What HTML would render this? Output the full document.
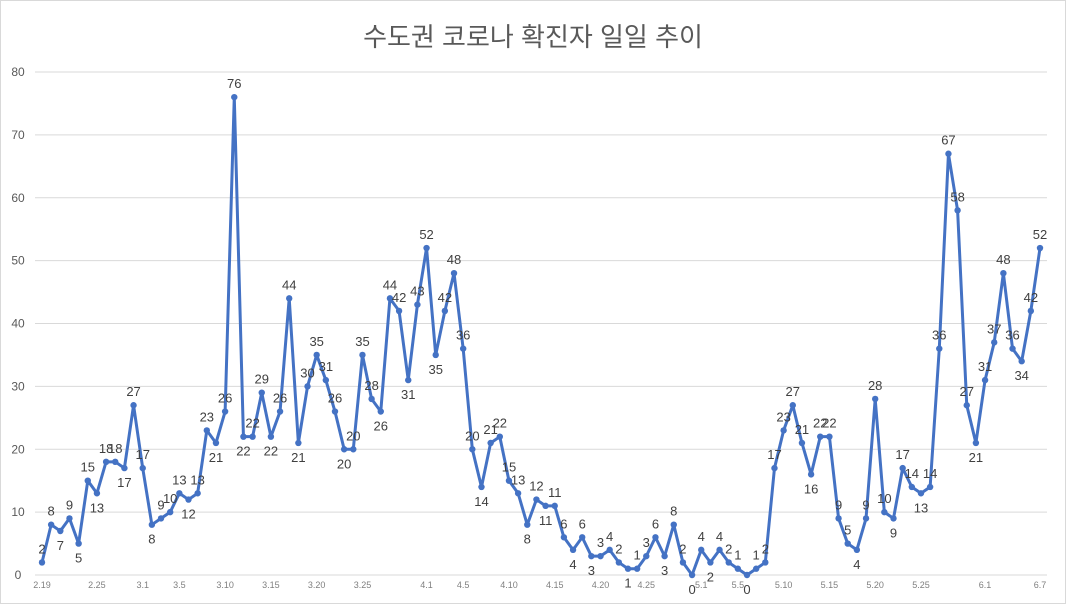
<!DOCTYPE html>
<html><head><meta charset="utf-8"><style>
body{margin:0;background:#fff;}
svg{display:block;font-family:"Liberation Sans","Noto Sans CJK KR",sans-serif;}
</style></head><body>
<svg id="chart" width="1066" height="604" viewBox="0 0 1066 604">
<rect x="0.5" y="0.5" width="1065" height="603" fill="#fff" stroke="#d9d9d9"/>
<text x="533" y="46" text-anchor="middle" font-size="26" fill="#595959">수도권 코로나 확진자 일일 추이</text>
<g id="grid"></g><g id="yt"></g><g id="xt"></g><g id="series"></g><g id="labels"></g>
</svg>
<script>
const startDate = [2, 19];
const values = [2,8,7,9,5,15,13,18,18,17,27,
17,8,9,10,13,12,13,23,21,26,76,22,22,29,22,26,44,21,30,35,31,26,20,20,35,28,26,44,42,31,43,
52,35,42,48,36,20,14,21,22,15,13,8,12,11,11,6,4,6,3,3,4,2,1,1,3,6,3,8,2,0,
4,2,4,2,1,0,1,2,17,23,27,21,16,22,22,9,5,4,9,28,10,9,17,14,13,14,36,67,58,27,21,
31,37,48,36,34,42,52];
const xTickLabels = ["2.19","2.25","3.1","3.5","3.10","3.15","3.20","3.25","4.1","4.5","4.10","4.15","4.20","4.25","5.1","5.5","5.10","5.15","5.20","5.25","6.1","6.7"];
const yTicks = [0,10,20,30,40,50,60,70,80];

const NS="http://www.w3.org/2000/svg";
const x0=42, x1=1040, yBase=575, yTop=72, yMax=80;
const xs=i=>x0+i*(x1-x0)/(values.length-1);
const ys=v=>yBase-v*(yBase-yTop)/yMax;
const monthStart={2:0,3:29,4:60,5:90,6:121};
const dayIdx=s=>{const [m,d]=s.split('.').map(Number);return monthStart[m]+d-(monthStart[startDate[0]]+startDate[1]);};
function mk(t,a,p){const e=document.createElementNS(NS,t);for(const k in a)e.setAttribute(k,a[k]);p.appendChild(e);return e;}
const grid=document.getElementById('grid'),yt=document.getElementById('yt'),xt=document.getElementById('xt'),ser=document.getElementById('series'),lab=document.getElementById('labels');
yTicks.forEach(v=>{
  const l=mk('line',{x1:35,x2:1047,y1:ys(v),y2:ys(v),stroke:'#d9d9d9','stroke-width':1},grid);
  
  
  const t=mk('text',{x:18,y:ys(v)+4,'text-anchor':'middle','font-size':12,fill:'#595959'},yt);
  
  
  t.textContent=v;
});
xTickLabels.forEach(s=>{
  const t=mk('text',{x:xs(dayIdx(s)),y:588,'text-anchor':'middle','font-size':9,fill:'#7f7f7f'},xt);
  
  
  t.textContent=s;
});
const pl=mk('polyline',{points:values.map((v,i)=>xs(i)+','+ys(v)).join(' '),fill:'none',stroke:'#4472c4','stroke-width':3,'stroke-linejoin':'round'},ser);


values.forEach((v,i)=>{
  const c=mk('circle',{cx:xs(i),cy:ys(v),r:3.2,fill:'#4472c4'},ser);
  
  
  const prev=i>0?values[i-1]:v,next=i<values.length-1?values[i+1]:v;
  const below=(v<prev&&v<=next);
  const t=mk('text',{x:xs(i),y:below?ys(v)+19:ys(v)-9,'text-anchor':'middle','font-size':13,fill:'#404040'},lab);
  
  
  t.textContent=v;
});
</script>
</body></html>
